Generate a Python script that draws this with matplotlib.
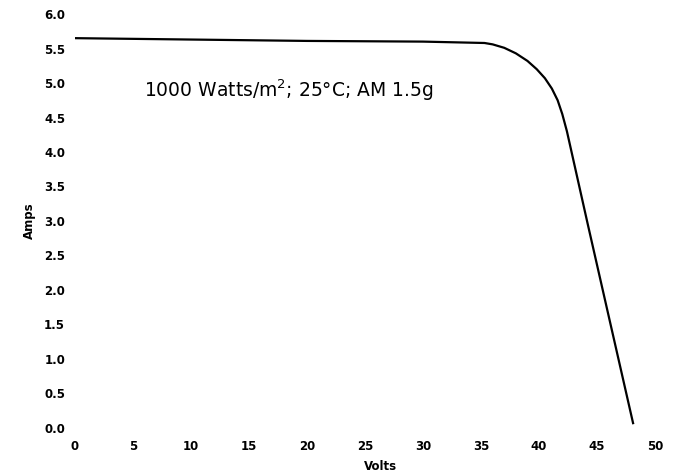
import matplotlib.pyplot as plt
import numpy as np

# I-V curve
volts = [0, 10, 20, 30, 35.3, 36.0, 37.0, 38.0, 39.0, 39.8, 40.5, 41.1, 41.6,
         42.0, 42.4, 44.2, 46.0, 48.1]
amps = [5.65, 5.63, 5.61, 5.60, 5.58, 5.56, 5.51, 5.43, 5.32, 5.20, 5.07, 4.92,
        4.75, 4.55, 4.30, 2.95, 1.62, 0.07]

x_ticks = np.arange(0, 51, 5)
y_ticks = np.arange(0, 6.01, 0.5)

fig = plt.figure(figsize=(6.74, 4.75), dpi=100)
ax = fig.add_axes([0.111, 0.099, 0.861, 0.8715])

ax.plot(volts, amps, color='black', linewidth=1.6, solid_joinstyle='round')

ax.set_xlim(0, 50)
ax.set_ylim(0, 6)
ax.set_xticks(x_ticks)
ax.set_yticks(y_ticks)
ax.set_yticklabels(['{:.1f}'.format(v) for v in y_ticks])
for s in ax.spines.values():
    s.set_visible(False)

tick_font = dict(family='DejaVu Sans', weight='bold', size=8.5)
for lab in ax.get_xticklabels() + ax.get_yticklabels():
    lab.set_family('DejaVu Sans')
    lab.set_weight('bold')
    lab.set_size(8.5)
ax.tick_params(axis='x', length=0, pad=9)
ax.tick_params(axis='y', length=0, pad=7)

ax.set_xlabel('Volts', fontdict=tick_font, va='center')
ax.xaxis.set_label_coords(0.526, -0.094)
ax.set_ylabel('Amps', fontdict=tick_font, va='center')
ax.yaxis.set_label_coords(-0.078, 0.5)

ax.text(6.0, 4.9, '1000 Watts/m$^2$; 25°C; AM 1.5g', fontsize=13.5,
        family='DejaVu Sans', va='center', ha='left')

fig.savefig('out.png', dpi=100)
